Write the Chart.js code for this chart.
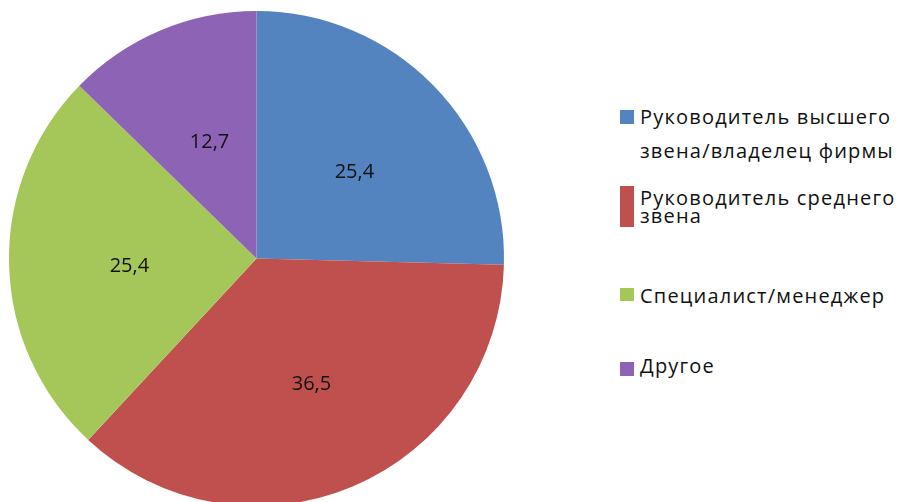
<!DOCTYPE html>
<html>
<head>
<meta charset="utf-8">
<script src="https://cdn.jsdelivr.net/npm/chart.js@4"></script>
<style>
  html, body { margin: 0; padding: 0; background: #fff; overflow: hidden; width: 905px; height: 502px; }
  #wrap { position: absolute; left: -1px; top: 0; width: 515px; height: 517px; }
  .legend-item { position: absolute; left: 620px; font-family: "Open Sans", sans-serif; font-size: 20px; letter-spacing: 1.2px; color: #111; line-height: 34px; }
  .legend-item .box { position: absolute; left: 0; width: 14px; }
  .legend-item .txt { position: absolute; left: 20px; white-space: pre; }
</style>
</head>
<body>
<div id="wrap"><canvas id="pieChart"></canvas></div>
<div id="legend"></div>
<script>
const categories = [
  "Руководитель высшего звена/владелец фирмы",
  "Руководитель среднего звена",
  "Специалист/менеджер",
  "Другое"
];
const legendLines = [
  ["Руководитель высшего", "звена/владелец фирмы"],
  ["Руководитель среднего", "звена"],
  ["Специалист/менеджер"],
  ["Другое"]
];
const shares = [25.4, 36.5, 25.4, 12.7];
const sliceColors = ["#5384BF", "#C0504D", "#A5C75A", "#8D63B5"];

// value labels inside each slice
const sliceLabels = {
  id: "sliceLabels",
  afterDatasetsDraw(chart) {
    const ctx = chart.ctx;
    const meta = chart.getDatasetMeta(0);
    ctx.save();
    ctx.font = '20px "Open Sans", sans-serif';
    ctx.fillStyle = "#111";
    ctx.textAlign = "center";
    ctx.textBaseline = "middle";
    meta.data.forEach(function (arc, i) {
      const p = arc.getProps(["x", "y", "startAngle", "endAngle", "outerRadius"], true);
      const mid = (p.startAngle + p.endAngle) / 2;
      const r = p.outerRadius * 0.53;
      const txt = shares[i].toFixed(1).replace(".", ",");
      ctx.fillText(txt, p.x + Math.cos(mid) * r + 4, p.y + Math.sin(mid) * r + 5);
    });
    ctx.restore();
  }
};

const ctx = document.getElementById("pieChart").getContext("2d");
new Chart(ctx, {
  type: "pie",
  data: {
    labels: categories,
    datasets: [
      {
        data: shares,
        backgroundColor: sliceColors,
        borderWidth: 0
      }
    ]
  },
  options: {
    responsive: true,
    maintainAspectRatio: false,
    animation: false,
    layout: { padding: 10 },
    plugins: {
      legend: { display: false },
      tooltip: { enabled: false }
    }
  },
  plugins: [sliceLabels]
});

// legend on the right
const legendTops = [100, 181, 279, 349];
const boxSpans = [[110, 124], [186, 227], [288, 301], [362, 376]];
const legend = document.getElementById("legend");
legendLines.forEach(function (lines, i) {
  const item = document.createElement("div");
  item.className = "legend-item";
  item.style.top = "0px";
  const box = document.createElement("div");
  box.className = "box";
  box.style.background = sliceColors[i];
  box.style.top = boxSpans[i][0] + "px";
  box.style.height = (boxSpans[i][1] - boxSpans[i][0]) + "px";
  item.appendChild(box);
  lines.forEach(function (line, j) {
    const t = document.createElement("div");
    t.className = "txt";
    t.textContent = line;
    t.style.top = (legendTops[i] + j * (i === 0 ? 34 : 18)) + "px";
    item.appendChild(t);
  });
  legend.appendChild(item);
});
</script>
</body>
</html>
